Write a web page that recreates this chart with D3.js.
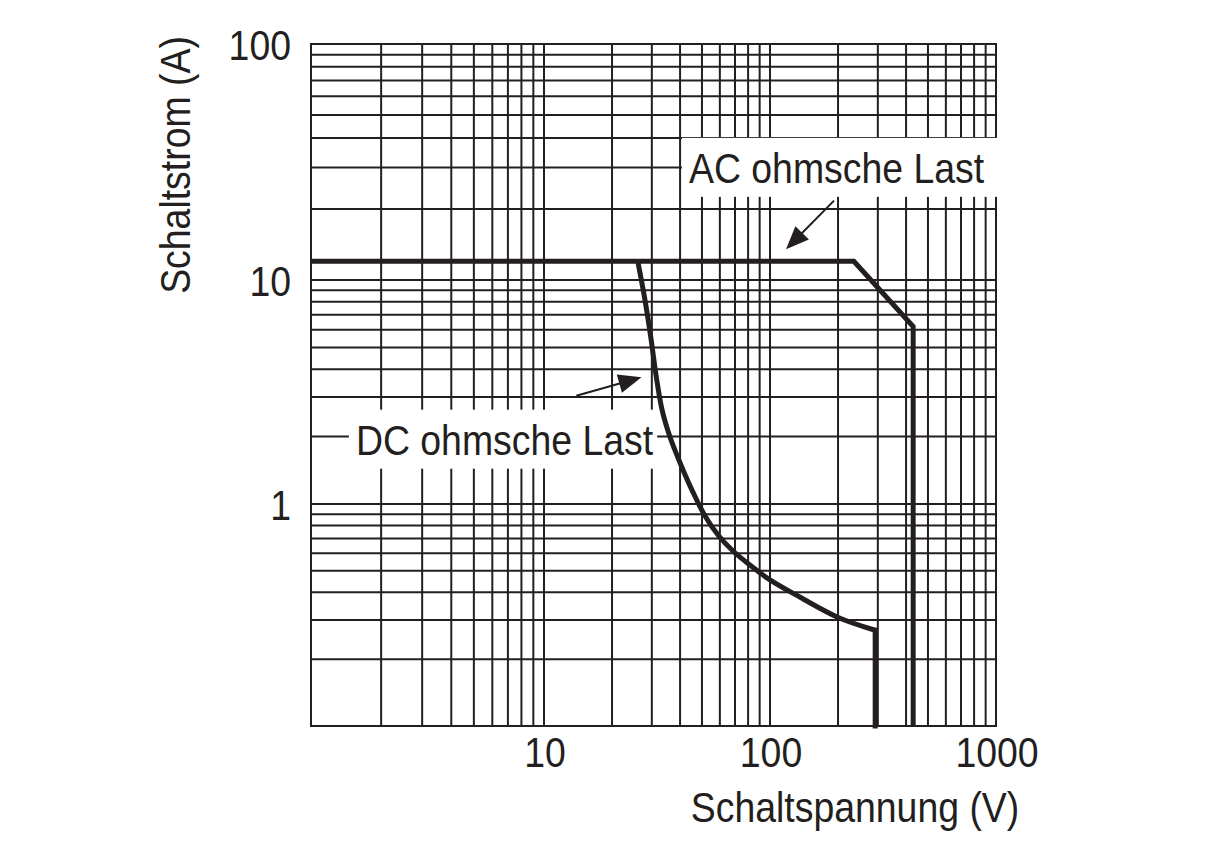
<!DOCTYPE html>
<html>
  <head>
    <meta charset="utf-8">
    <title>Schaltleistung</title>
    <script src="https://cdn.jsdelivr.net/npm/d3@7"></script>
    <style type="text/css">
      body { margin: 0; background: #fff; }
      text {
        font-family: "Liberation Sans", Arial, sans-serif;
        fill: #231f20;
        font-size: 43px;
      }
    </style>
  </head>
  <body>
    <script>
    //Width and height
    var svgWidth = 1214;
    var svgHeight = 864;
    var ink = "#231f20";
    var squeeze = 0.87;   // the original uses a condensed face

    //Axis values (log / log)
    var xTicks = [10, 100, 1000];
    var yTicks = [1, 10, 100];
    var mantissas = [1, 2, 3, 4, 5, 6, 7, 8, 9];
    var xDecades = [1, 10, 100];
    var yDecades = [0.1, 1, 10];

    //AC ohmsche Last
    var acVolts = [1, 235, 430, 430];
    var acAmps = [12, 12, 6.2, 0.1];

    //DC ohmsche Last
    var dcVolts = [26, 28, 29.8, 31.3, 33.3, 36.1, 40.4, 45.6, 51.6, 58.9, 68.6, 81.5, 100, 136, 198, 292];
    var dcAmps = [12, 8.1, 5.4, 3.77, 2.63, 1.99, 1.49, 1.13, 0.883, 0.725, 0.614, 0.531, 0.455, 0.38, 0.31, 0.27];
    var dcCutVolts = [292, 292];
    var dcCutAmps = [0.27, 0.1];

    //Annotations (volts, amps)
    var acLabel = "AC ohmsche Last";
    var acLabelAt = [197, 25.8];
    var acArrow = [[192, 21.7], [117.7, 13.5]];
    var dcLabel = "DC ohmsche Last";
    var dcLabelAt = [6.77, 1.66];
    var dcArrow = [[13.9, 3.04], [27, 3.68]];

    //Scales - the drawing's decades are not quite even, so piecewise
    var xScale = d3.scaleLog()
      .domain([1, 10, 100, 1000])
      .range([311, 544, 770, 996]);

    var yScale = d3.scaleLog()
      .domain([0.1, 1, 10, 100])
      .range([726, 504, 280, 44]);

    var x0 = xScale(1), x1 = xScale(1000);
    var y0 = yScale(0.1), y1 = yScale(100);

    //grid values 1,2,..9 per decade
    var xGrid = [], yGrid = [];
    xDecades.forEach(function(d) { mantissas.forEach(function(m) { xGrid.push(d * m); }); });
    yDecades.forEach(function(d) { mantissas.forEach(function(m) { yGrid.push(d * m); }); });

    var svg = d3.select("body")
      .append("svg")
        .attr("width", svgWidth)
        .attr("height", svgHeight);

    var grid = svg.append("g")
      .attr("stroke", ink)
      .attr("stroke-width", 2);

    grid.selectAll("line.v")
      .data(xGrid)
      .enter()
      .append("line")
      .attr("class", "v")
      .attr("x1", function(d) { return xScale(d); })
      .attr("x2", function(d) { return xScale(d); })
      .attr("y1", y0)
      .attr("y2", y1);

    grid.selectAll("line.h")
      .data(yGrid)
      .enter()
      .append("line")
      .attr("class", "h")
      .attr("x1", x0)
      .attr("x2", x1)
      .attr("y1", function(d) { return yScale(d); })
      .attr("y2", function(d) { return yScale(d); });

    grid.append("rect")
      .attr("x", x0)
      .attr("y", y1)
      .attr("width", x1 - x0)
      .attr("height", y0 - y1)
      .attr("fill", "none");

    //text helper: narrow the glyphs a bit
    function place(x, y, rot) {
      return "translate(" + x + "," + y + ")" + (rot ? " rotate(" + rot + ")" : "") +
        " scale(" + squeeze + ",1)";
    }

    //tick labels
    svg.selectAll("text.xt")
      .data(xTicks)
      .enter()
      .append("text")
      .attr("class", "xt")
      .attr("transform", function(d) { return place(xScale(d) + 1, y0 + 41); })
      .attr("text-anchor", "middle")
      .text(function(d) { return d; });

    svg.selectAll("text.yt")
      .data(yTicks)
      .enter()
      .append("text")
      .attr("class", "yt")
      .attr("transform", function(d) { return place(291, yScale(d) + 16); })
      .attr("text-anchor", "end")
      .text(function(d) { return d; });

    //axis titles
    svg.append("text")
      .attr("transform", place(855, 822))
      .attr("text-anchor", "middle")
      .text("Schaltspannung (V)");

    svg.append("text")
      .attr("transform", place(190, 165, -90))
      .attr("text-anchor", "middle")
      .text("Schaltstrom (A)");

    //labels on white boxes
    function boxLabel(txt, at, rightEdge) {
      var g = svg.append("g");
      var ty = yScale(at[1]);
      g.append("text")
        .attr("transform", place(xScale(at[0]), ty))
        .attr("text-anchor", "middle")
        .text(txt);
      var bb = g.node().getBBox();
      var left = bb.x - 7;
      var right = rightEdge || (bb.x + bb.width + 4);
      g.insert("rect", "text")
        .attr("x", left)
        .attr("y", ty - 45)
        .attr("width", right - left)
        .attr("height", 59)
        .attr("fill", "#fff");
    }
    boxLabel(acLabel, acLabelAt, x1 + 2);
    boxLabel(dcLabel, dcLabelAt);

    //curves
    var line = d3.line()
      .x(function(d) { return xScale(d[0]); })
      .y(function(d) { return yScale(d[1]); });

    var curve = d3.line()
      .x(function(d) { return xScale(d[0]); })
      .y(function(d) { return yScale(d[1]); })
      .curve(d3.curveCatmullRom.alpha(0.5));

    svg.append("path")
      .attr("d", line(d3.zip(acVolts, acAmps)))
      .attr("fill", "none")
      .attr("stroke", ink)
      .attr("stroke-width", 5)
      .attr("stroke-linejoin", "miter");

    svg.append("path")
      .attr("d", curve(d3.zip(dcVolts, dcAmps)))
      .attr("fill", "none")
      .attr("stroke", ink)
      .attr("stroke-width", 5);

    svg.append("path")
      .attr("d", line(d3.zip(dcCutVolts, dcCutAmps)))
      .attr("fill", "none")
      .attr("stroke", ink)
      .attr("stroke-width", 5)
      .attr("stroke-linecap", "square");

    //arrows
    function arrow(pts) {
      var ax = xScale(pts[0][0]), ay = yScale(pts[0][1]);
      var bx = xScale(pts[1][0]), by = yScale(pts[1][1]);
      var dx = bx - ax, dy = by - ay;
      var len = Math.sqrt(dx * dx + dy * dy);
      var ux = dx / len, uy = dy / len;
      var hl = 23, hw = 9.5;
      var cx = bx - ux * hl, cy = by - uy * hl;
      svg.append("line")
        .attr("x1", ax).attr("y1", ay)
        .attr("x2", cx + ux * 4).attr("y2", cy + uy * 4)
        .attr("stroke", ink)
        .attr("stroke-width", 2);
      svg.append("path")
        .attr("d", "M" + bx + "," + by +
          "L" + (cx - uy * hw) + "," + (cy + ux * hw) +
          "L" + (cx + uy * hw) + "," + (cy - ux * hw) + "Z")
        .attr("fill", ink);
    }
    arrow(acArrow);
    arrow(dcArrow);
    </script>
  </body>
</html>
